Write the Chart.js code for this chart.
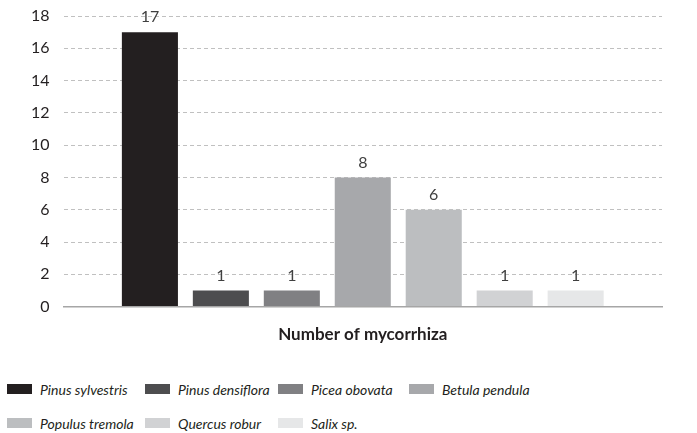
<!DOCTYPE html>
<html>
<head>
<meta charset="utf-8">
<script src="https://cdn.jsdelivr.net/npm/chart.js@4"></script>
<style>
	body {margin: 0; background: #ffffff; font-family: Lato, "Liberation Sans", sans-serif;}
	#wrap {position: relative; width: 697px; height: 433px;}
	#chartBox {position: absolute; left: 0; top: 0; width: 697px; height: 345px;}
	#legend {position: absolute; left: 7px; top: 379px; display: grid; grid-template-columns: 138px 133px 131px 160px; row-gap: 14px;}
	.item {display: flex; align-items: center; height: 20px; white-space: nowrap; font-style: italic; font-size: 14px; color: #231f20;}
	.swatch {width: 25px; height: 10px; margin-right: 8px; flex: none;}
</style>
</head>
<body>
<div id="wrap">
	<div id="chartBox"><canvas id="chart"></canvas></div>
	<div id="legend"></div>
</div>
<script>
const categories = ["Number of mycorrhiza"];
const species = ["Pinus sylvestris", "Pinus densiflora", "Picea obovata", "Betula pendula", "Populus tremola", "Quercus robur", "Salix sp."];
const counts = [17, 1, 1, 8, 6, 1, 1];
const colors = ["#231f20", "#4d4d4f", "#808083", "#a7a8ab", "#bcbec0", "#d1d2d4", "#e6e7e8"];
const yTicks = [0, 2, 4, 6, 8, 10, 12, 14, 16, 18];

const fontFamily = "Lato, 'Liberation Sans', sans-serif";

// value labels above each bar
var valueLabels = {
	"id": "valueLabels",
	"afterDatasetsDraw": function (chart) {
		const ctx = chart.ctx;
		ctx.save();
		ctx.font = "16px " + fontFamily;
		ctx.fillStyle = "#404040";
		ctx.textAlign = "center";
		ctx.textBaseline = "bottom";
		chart.data.datasets.forEach(function (ds, i) {
			const meta = chart.getDatasetMeta(i);
			meta.data.forEach(function (bar, j) {
				ctx.fillText(ds.data[j], bar.x, bar.y - 7);
			});
		});
		ctx.restore();
	},
};

var chart = new Chart(document.getElementById("chart"), {
	"type": "bar",
	"data": {
		"labels": categories,
		"datasets": species.map((name, i) => ({
			"label": name,
			"data": [counts[i]],
			"backgroundColor": colors[i],
			"categoryPercentage": 0.83,
			"barPercentage": 0.79,
		})),
	},
	"options": {
		"responsive": true,
		"maintainAspectRatio": false,
		"animation": false,
		"layout": {"padding": {"top": 16, "right": 35, "left": 17, "bottom": 0}},
		"scales": {
			"x": {
				"ticks": {"display": false},
				"grid": {"display": false},
				"border": {"display": true, "color": "#a6a6a6", "width": 1.5},
				"title": {
					"display": true,
					"text": categories[0],
					"color": "#231f20",
					"font": {"family": fontFamily, "size": 17, "weight": "bold"},
					"padding": {"top": 10, "bottom": 0},
				},
			},
			"y": {
				"min": 0,
				"max": 18,
				"afterBuildTicks": function (axis) {
					axis.ticks = yTicks.map((v) => ({"value": v}));
				},
				// tick padding would otherwise push the plot top down
				"afterFit": function (axis) {
					axis.paddingTop = 0;
				},
				"ticks": {
					"color": "#231f20",
					"padding": 14,
					"font": {"family": fontFamily, "size": 16},
				},
				"grid": {"color": "#c0c0c0", "drawTicks": false},
				"border": {"display": false, "dash": [4, 3]},
			},
		},
		"plugins": {
			"legend": {"display": false},
			"tooltip": {"enabled": false},
		},
	},
	"plugins": [valueLabels],
});

// legend laid out in columns like the reference
var legend = document.getElementById("legend");
species.forEach(function (name, i) {
	var item = document.createElement("div");
	item.className = "item";
	var sw = document.createElement("span");
	sw.className = "swatch";
	sw.style.background = colors[i];
	item.appendChild(sw);
	item.appendChild(document.createTextNode(name));
	legend.appendChild(item);
});
</script>
</body>
</html>
